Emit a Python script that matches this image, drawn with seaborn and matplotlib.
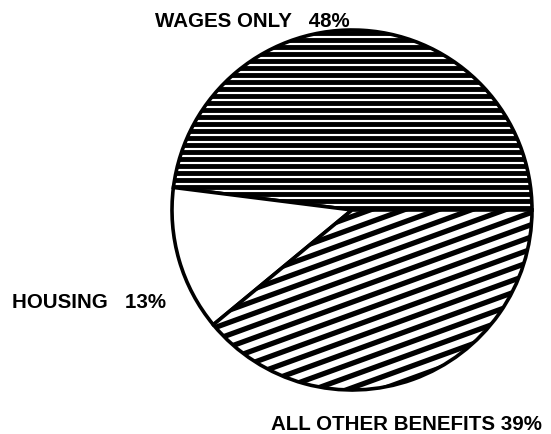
import numpy as np
import matplotlib
matplotlib.use("Agg")
import matplotlib.pyplot as plt
import seaborn as sns
from matplotlib.collections import LineCollection

# data
categories = ["WAGES ONLY", "HOUSING", "ALL OTHER BENEFITS"]
percents = [48, 13, 39]
label_gaps = ["   ", "   ", " "]

sns.set_theme(style="white")
plt.rcParams['font.family'] = ['Liberation Sans', 'DejaVu Sans']

W, H = 551, 435
fig = plt.figure(figsize=(W / 100, H / 100), dpi=100)

# square axes placed so the pie sits where it does in the original
cx, cy, r = 352, 211, 180
lim = 1.03
half = r * lim
ax = fig.add_axes([(cx - half) / W, (H - cy - half) / H, 2 * half / W, 2 * half / H])

wedges, _ = ax.pie(percents, startangle=0, counterclock=True,
                   colors=["white"] * len(percents),
                   wedgeprops=dict(edgecolor="black", linewidth=2.6))
ax.set_xlim(-lim, lim)
ax.set_ylim(-lim, lim)
ax.set_aspect("equal")
ax.axis("off")

# horizontal hatching for wages
ys = np.arange(-1.0, 1.0, 7 / r)
segs = [[(-1.1, y), (1.1, y)] for y in ys]
lc = LineCollection(segs, colors="black", linewidths=3.5)
ax.add_collection(lc)
lc.set_clip_path(wedges[0])

# diagonal hatching for other benefits (about 20 degrees)
ang = np.deg2rad(20)
step = (11.5 / r) / np.cos(ang)
segs = []
for c in np.arange(-1.6, 1.6, step):
    segs.append([(-1.2, np.tan(ang) * -1.2 + c), (1.2, np.tan(ang) * 1.2 + c)])
lc2 = LineCollection(segs, colors="black", linewidths=3.8)
ax.add_collection(lc2)
lc2.set_clip_path(wedges[2])

labels = [f"{c}{g}{p}%" for c, g, p in zip(categories, label_gaps, percents)]
label_pos = [(155, 27, "left"), (12, 308, "left"), (542, 430, "right")]
for txt, (x, y, ha) in zip(labels, label_pos):
    fig.text(x / W, 1 - y / H, txt, ha=ha, va="baseline", fontsize=14.8,
             fontweight="bold", color="black")

fig.savefig("out.png", dpi=100, facecolor="white")
